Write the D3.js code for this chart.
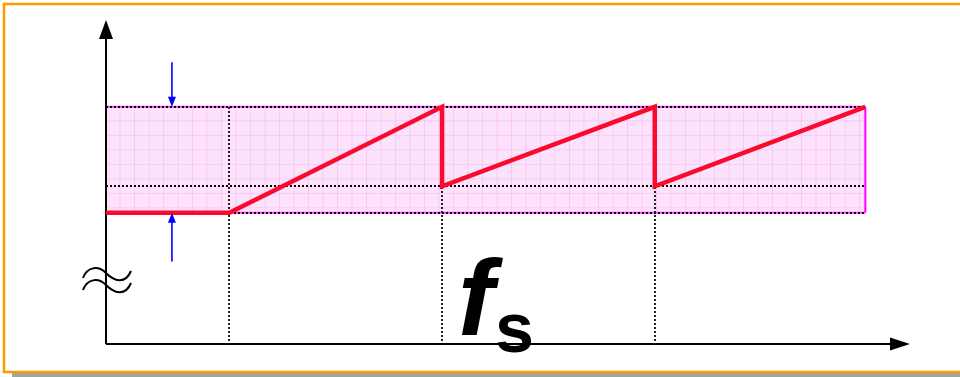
<!DOCTYPE html>
<html>
<head>
<meta charset="utf-8">
<script src="https://cdn.jsdelivr.net/npm/d3@7"></script>
<style>
  html, body { margin: 0; padding: 0; background: #fff; }
  svg { display: block; }
</style>
</head>
<body>
<div id="vis"></div>
<script>
// sawtooth corners (x in sample periods, y as fraction of band)
const sawX = [-0.58, 0, 1, 1, 2, 2, 2.99];
const sawY = [0, 0, 1, 0.25, 1, 0.25, 1];
// dashed horizontal levels of the band
const levels = [0, 0.25, 1];
// vertical dotted markers
const markers = [0, 1, 2];
// band extent along x
const bandX = [-0.58, 2.99];
const bandY = [0, 1];
// arrow positions (x, from, to)
const arrowX = -0.27;
const arrowTop = [1.42, 1];
const arrowBottom = [-0.46, 0];
const labelMain = "f";
const labelSub = "s";

(function(){
  const width = 960, height = 377;

  const svg = d3.select("#vis").append("svg")
    .attr("width", width)
    .attr("height", height);

  // frame with shadow
  svg.append("rect")
    .attr("x", 12).attr("y", 372)
    .attr("width", 960).attr("height", 6)
    .attr("fill", "#a3a3a3");
  svg.append("rect")
    .attr("x", 4).attr("y", 4)
    .attr("width", 970).attr("height", 368)
    .attr("fill", "#fff")
    .attr("stroke", "#ff9900")
    .attr("stroke-width", 2.5);

  const x = d3.scaleLinear().domain([-0.58, 3.2]).range([106, 910]);
  const y = d3.scaleLinear().domain([-1.24, 1.82]).range([344, 20]);

  // pink band with grid texture
  const defs = svg.append("defs");
  const pat = defs.append("pattern")
    .attr("id", "grid")
    .attr("patternUnits", "userSpaceOnUse")
    .attr("x", x(bandX[0])).attr("y", y(bandY[1]))
    .attr("width", 14.5).attr("height", 14.5);
  pat.append("rect").attr("width", 14.5).attr("height", 14.5).attr("fill", "#fde2fb");
  pat.append("path").attr("d", "M14.5,0V14.5M0,14.5H14.5")
    .attr("stroke", "#f7b3f3").attr("stroke-width", 1).attr("fill", "none");

  svg.append("rect")
    .attr("x", x(bandX[0])).attr("y", y(bandY[1]))
    .attr("width", x(bandX[1]) - x(bandX[0]))
    .attr("height", y(bandY[0]) - y(bandY[1]))
    .attr("fill", "url(#grid)");

  // magenta sides
  svg.selectAll(".side")
    .data(bandX)
    .enter().append("line")
    .attr("class", "side")
    .attr("x1", d => x(d)).attr("x2", d => x(d))
    .attr("y1", y(bandY[1])).attr("y2", y(bandY[0]))
    .attr("stroke", "#ff00ff").attr("stroke-width", 2);

  // magenta under top/bottom edges
  svg.selectAll(".edge")
    .data(bandY)
    .enter().append("line")
    .attr("class", "edge")
    .attr("x1", x(bandX[0])).attr("x2", x(bandX[1]))
    .attr("y1", d => y(d)).attr("y2", d => y(d))
    .attr("stroke", "#ff40ff").attr("stroke-width", 2);

  // dashed levels
  svg.selectAll(".level")
    .data(levels)
    .enter().append("line")
    .attr("class", "level")
    .attr("x1", x(bandX[0])).attr("x2", x(bandX[1]))
    .attr("y1", d => Math.round(y(d))).attr("y2", d => Math.round(y(d)))
    .attr("stroke", "#000").attr("stroke-width", 2)
    .attr("stroke-dasharray", "2,2")
    .attr("shape-rendering", "crispEdges");

  // dotted vertical markers
  svg.selectAll(".marker")
    .data(markers)
    .enter().append("line")
    .attr("class", "marker")
    .attr("x1", d => Math.round(x(d))).attr("x2", d => Math.round(x(d)))
    .attr("y1", y(bandY[1])).attr("y2", y.range()[0])
    .attr("stroke", "#222").attr("stroke-width", 2)
    .attr("stroke-dasharray", "2,2")
    .attr("shape-rendering", "crispEdges");

  // axes
  const x0 = x.range()[0], y0 = y.range()[0];
  svg.append("line")
    .attr("x1", x0).attr("x2", x0)
    .attr("y1", y0).attr("y2", y.range()[1] + 12)
    .attr("stroke", "#000").attr("stroke-width", 2);
  svg.append("line")
    .attr("x1", x0).attr("x2", x.range()[1] - 12)
    .attr("y1", y0).attr("y2", y0)
    .attr("stroke", "#000").attr("stroke-width", 2);
  svg.append("path")
    .attr("d", `M${x0},${y.range()[1]}L${x0 - 7},${y.range()[1] + 19}L${x0 + 7},${y.range()[1] + 19}Z`)
    .attr("fill", "#000");
  svg.append("path")
    .attr("d", `M${x.range()[1]},${y0}L${x.range()[1] - 20},${y0 - 6.5}L${x.range()[1] - 20},${y0 + 6.5}Z`)
    .attr("fill", "#000");

  // break mark (≈) on the y axis
  const wave = (dy) => `M83,${278 + dy}C87,${267 + dy} 98,${265 + dy} 106,${273 + dy}S125,${285 + dy} 131,${271 + dy}`;
  svg.selectAll(".wave")
    .data([0, 12])
    .enter().append("path")
    .attr("class", "wave")
    .attr("d", d => wave(d))
    .attr("fill", "none")
    .attr("stroke", "#000")
    .attr("stroke-width", 2);

  // sawtooth
  const pts = sawX.map((d, i) => [d, sawY[i]]);
  svg.append("path")
    .datum(pts)
    .attr("d", d3.line().x(d => x(d[0])).y(d => y(d[1])))
    .attr("fill", "none")
    .attr("stroke", "#fa0a2d")
    .attr("stroke-width", 4.5)
    .attr("stroke-linejoin", "miter");

  // blue arrows
  function arrow(from, to) {
    const ax = x(arrowX), ya = y(from), yb = y(to);
    const dir = yb > ya ? 1 : -1;
    svg.append("line")
      .attr("x1", ax).attr("x2", ax)
      .attr("y1", ya).attr("y2", yb - dir * 8)
      .attr("stroke", "#0000ff").attr("stroke-width", 1.6);
    svg.append("path")
      .attr("d", `M${ax},${yb}L${ax - 4},${yb - dir * 10}L${ax + 4},${yb - dir * 10}Z`)
      .attr("fill", "#0000ff");
  }
  arrow(arrowTop[0], arrowTop[1]);
  arrow(arrowBottom[0], arrowBottom[1]);

  // label
  const t = svg.append("text")
    .attr("x", 458).attr("y", 335)
    .attr("font-family", "Liberation Sans, Arial, sans-serif")
    .attr("font-weight", "bold")
    .attr("fill", "#000");
  t.append("tspan")
    .attr("font-style", "italic")
    .attr("font-size", 108)
    .text(labelMain);
  t.append("tspan")
    .attr("font-size", 70)
    .attr("dx", 1)
    .attr("dy", 17)
    .text(labelSub);
})();
</script>
</body>
</html>
